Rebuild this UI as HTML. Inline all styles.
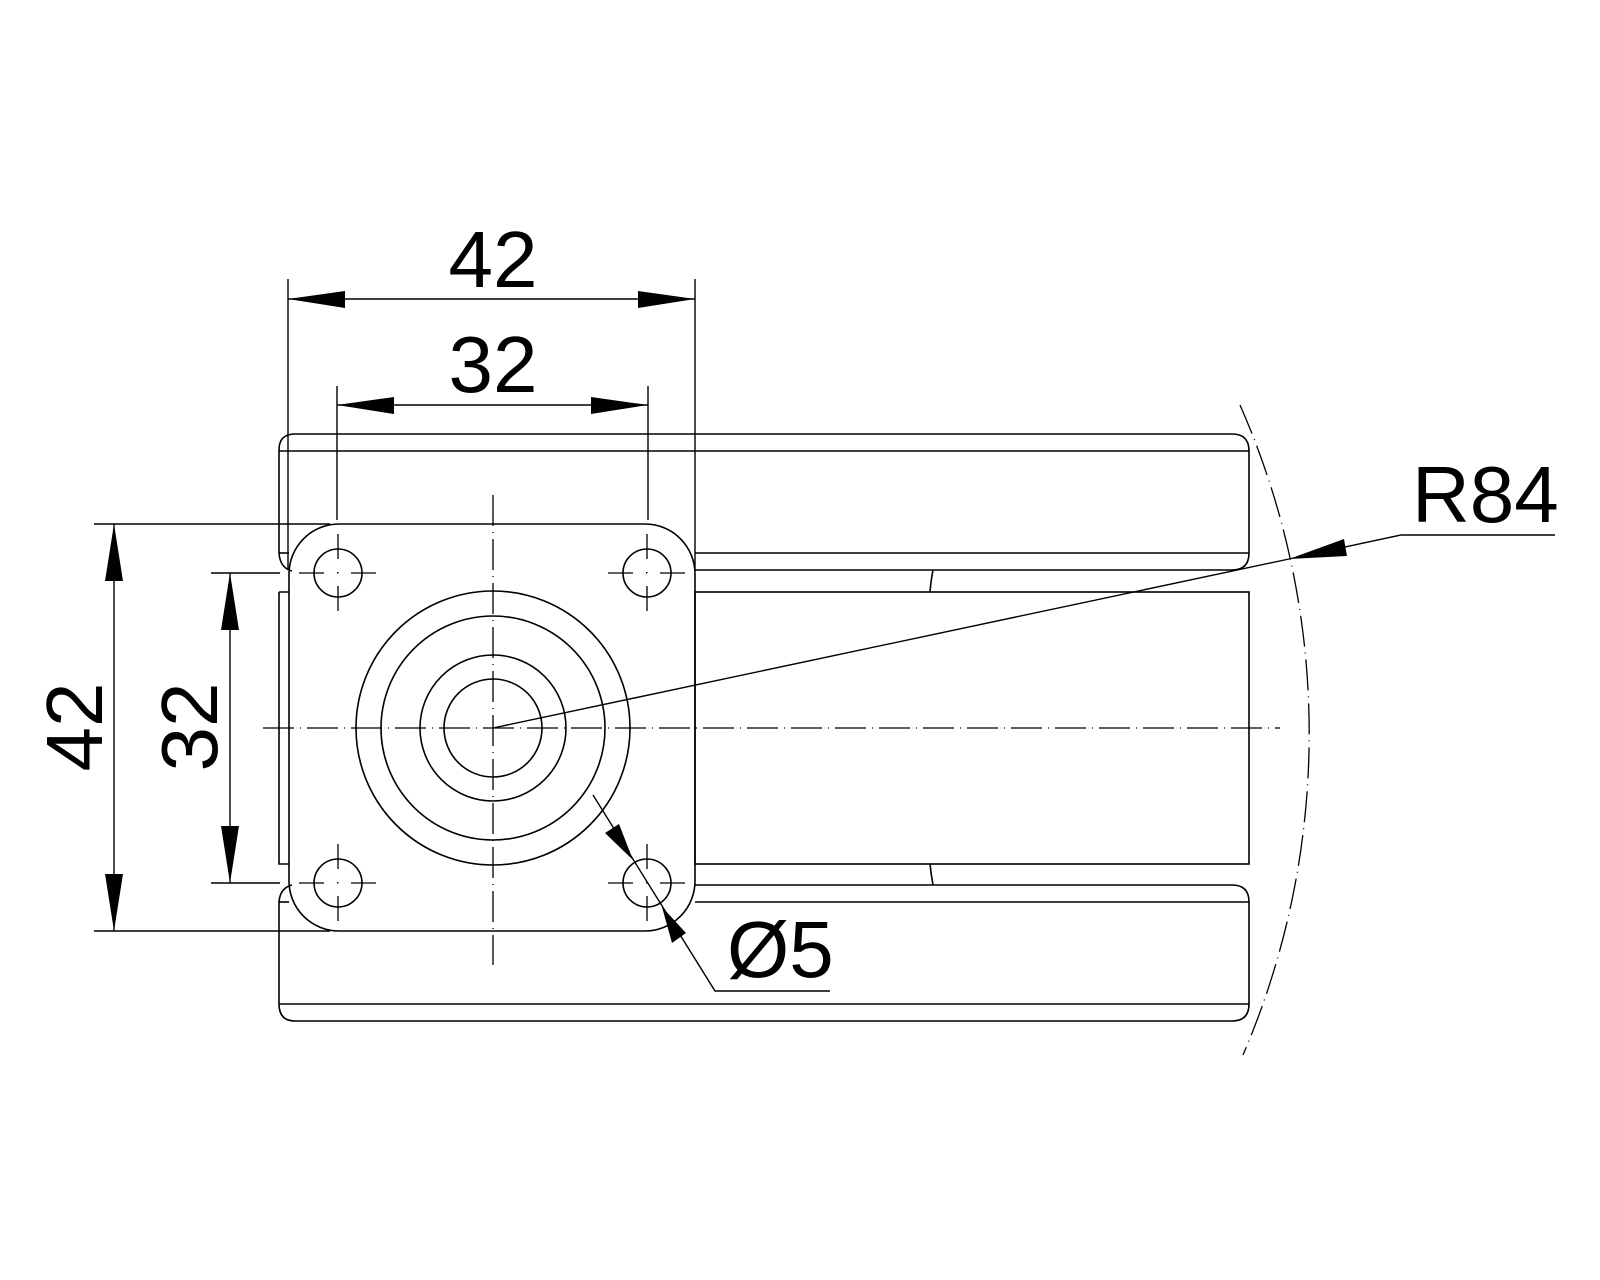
<!DOCTYPE html>
<html><head><meta charset="utf-8"><style>
html,body{margin:0;padding:0;background:#fff;}
svg{display:block;}
text{font-family:"Liberation Sans",Arial,sans-serif;font-size:80px;fill:#000;}
</style></head><body>
<svg width="1600" height="1280" viewBox="0 0 1600 1280" xmlns="http://www.w3.org/2000/svg">
<g fill="none" stroke="#000" stroke-width="1.6">
<!-- top rail -->
<path d="M279,553 L279,450 Q279,434 295,434 L1232,434 Q1249,434 1249,451 L1249,553 Q1249,570 1232,570 L695,570"/>
<line x1="279" y1="451" x2="1249" y2="451"/>
<line x1="695" y1="553" x2="1249" y2="553"/>
<path d="M279,553 Q280,568 292,571"/>
<line x1="279" y1="553" x2="289" y2="553"/>
<!-- middle -->
<rect x="695" y="592" width="554" height="272"/>
<path d="M279,592 L289,592 M279,592 L279,864 L289,864"/>
<!-- bottom rail -->
<path d="M695,885 L1232,885 Q1249,885 1249,902 L1249,1004 Q1249,1021 1232,1021 L295,1021 Q279,1021 279,1004 L279,902"/>
<line x1="695" y1="902" x2="1249" y2="902"/>
<line x1="279" y1="1004" x2="1249" y2="1004"/>
<line x1="279" y1="902" x2="289" y2="902"/>
<path d="M279,902 Q280,888 292,885"/>
<!-- small arcs -->
<path d="M933,570 Q931,580 930,592"/>
<path d="M930,864 Q931,874 933,885"/>
<!-- flange -->
<rect x="289" y="524" width="406" height="407" rx="50" ry="50"/>
<!-- circles -->
<circle cx="493" cy="728" r="137"/>
<circle cx="493" cy="728" r="112"/>
<circle cx="493" cy="728" r="73"/>
<circle cx="493" cy="728" r="49"/>
<circle cx="338" cy="573" r="24"/>
<circle cx="647" cy="573" r="24"/>
<circle cx="338" cy="883" r="24"/>
<circle cx="647" cy="883" r="24"/>
</g>
<!-- center lines -->
<g fill="none" stroke="#000" stroke-width="1.3">
<line x1="263" y1="728" x2="1280" y2="728" stroke-dasharray="31 6 1 6"/>
<line x1="493" y1="495" x2="493" y2="965" stroke-dasharray="31 6 1 6"/>
<path d="M1240,405 A814,814 0 0 1 1243,1055" stroke-dasharray="31 6 1 6"/>
<g stroke-dasharray="25 13 1 13 25">
<line x1="299" y1="573" x2="377" y2="573"/><line x1="338" y1="534" x2="338" y2="612"/>
<line x1="608" y1="573" x2="686" y2="573"/><line x1="647" y1="534" x2="647" y2="612"/>
<line x1="299" y1="883" x2="377" y2="883"/><line x1="338" y1="844" x2="338" y2="922"/>
<line x1="608" y1="883" x2="686" y2="883"/><line x1="647" y1="844" x2="647" y2="922"/>
</g>
</g>
<!-- dimensions -->
<g fill="none" stroke="#000" stroke-width="1.4">
<line x1="288" y1="279" x2="288" y2="570"/>
<line x1="695" y1="279" x2="695" y2="570"/>
<line x1="288" y1="299" x2="695" y2="299"/>
<line x1="337" y1="386" x2="337" y2="520"/>
<line x1="648" y1="386" x2="648" y2="520"/>
<line x1="337" y1="405" x2="648" y2="405"/>
<line x1="94" y1="524" x2="330" y2="524"/>
<line x1="94" y1="931" x2="330" y2="931"/>
<line x1="114" y1="524" x2="114" y2="931"/>
<line x1="211" y1="573" x2="280" y2="573"/>
<line x1="211" y1="883" x2="280" y2="883"/>
<line x1="230" y1="573" x2="230" y2="883"/>
<polyline points="493,728 1289,559 1401,535 1555,535"/>
<polyline points="593,795 715,991 830,991"/>
</g>
<g fill="#000" stroke="none">
<polygon points="288,299 345,291 345,308"/>
<polygon points="695,299 638,291 638,308"/>
<polygon points="337,405 394,397 394,414"/>
<polygon points="648,405 591,397 591,414"/>
<polygon points="114,524 105,581 123,581"/>
<polygon points="114,931 105,874 123,874"/>
<polygon points="230,573 221,630 239,630"/>
<polygon points="230,883 221,826 239,826"/>
<polygon points="1289,559 1344,539 1347,556"/>
<polygon points="633,860 605,833 619,824"/>
<polygon points="662,907 672,943 686,933"/>
</g>
<text x="493" y="287" text-anchor="middle">42</text>
<text x="493" y="392" text-anchor="middle">32</text>
<text x="1412" y="522">R84</text>
<text x="727" y="977">Ø5</text>
<text transform="translate(102,727) rotate(-90)" text-anchor="middle">42</text>
<text transform="translate(217,727) rotate(-90)" text-anchor="middle">32</text>
</svg>
</body></html>
